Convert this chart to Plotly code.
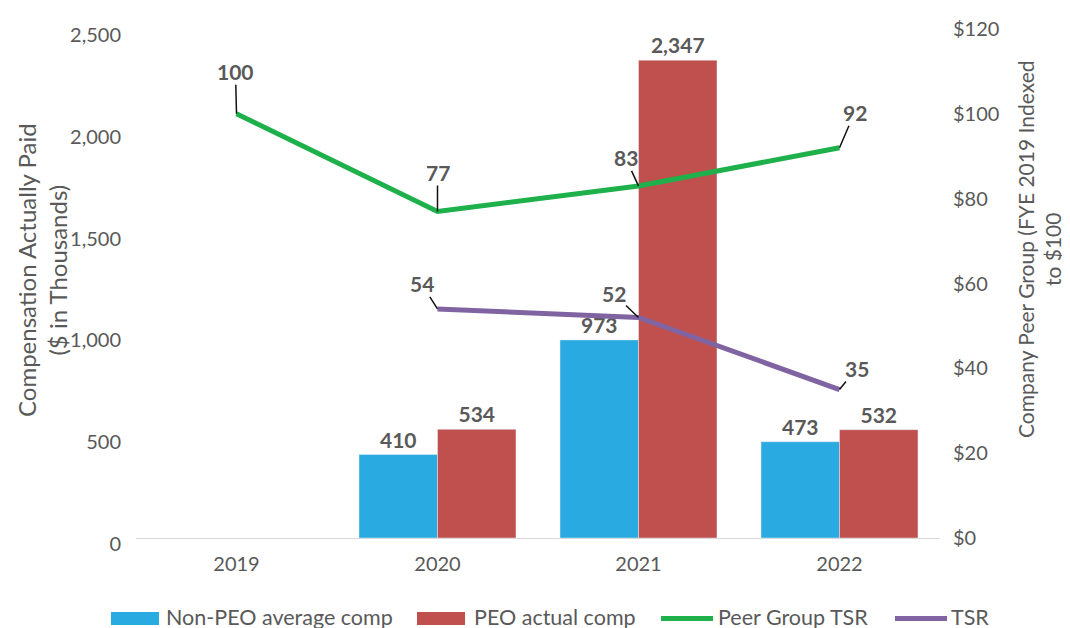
import plotly.graph_objects as go

years = ["2019", "2020", "2021", "2022"]
non_peo = [None, 410, 973, 473]
peo = [None, 534, 2347, 532]
peer_tsr = [100, 77, 83, 92]
tsr = [None, 54, 52, 35]

left_ticks = [0, 500, 1000, 1500, 2000, 2500]
right_ticks = [0, 20, 40, 60, 80, 100, 120]

GRAY = "#595959"
FONT = "Lato"
C_BLUE, C_RED, C_GREEN, C_PURPLE = "#29ABE2", "#C0504D", "#1DB04B", "#8064A2"

# The page adds an 8px body margin, so layout is expressed in page pixels minus this offset.
OFF = 8
# plot-area geometry in page pixels
PL, PR, PT, PB = 136, 940, 29, 538
L, R, T, B = PL - OFF, PR - OFF, PT - OFF, PB - OFF


def px(x):
    """page x pixel -> paper fraction"""
    return (x - PL) / (PR - PL)


def py(y):
    """page y pixel -> paper fraction"""
    return (PB - y) / (PB - PT)


fig = go.Figure()
fig.add_trace(go.Bar(x=years, y=non_peo, name="Non-PEO average comp", marker_color=C_BLUE,
                     text=[f"<b>{v:,}</b>" if v is not None else "" for v in non_peo],
                     textposition="outside", cliponaxis=False,
                     textfont=dict(family=FONT, size=21, color=GRAY)))
fig.add_trace(go.Bar(x=years, y=peo, name="PEO actual comp", marker_color=C_RED,
                     text=[f"<b>{v:,}</b>" if v is not None else "" for v in peo],
                     textposition="outside", cliponaxis=False,
                     textfont=dict(family=FONT, size=21, color=GRAY)))
fig.add_trace(go.Scatter(x=years, y=peer_tsr, name="Peer Group TSR", mode="lines",
                         line=dict(color=C_GREEN, width=5), yaxis="y2"))
fig.add_trace(go.Scatter(x=years, y=tsr, name="TSR", mode="lines",
                         line=dict(color=C_PURPLE, width=5), yaxis="y2"))

# leader-line labels for the line series (label offsets in pixels)
peer_off = [(-1, -42), (0, -39), (-13, -28), (15, -35)]
tsr_off = [None, (-16, -25), (-25, -24), (17, -21)]
for offs, vals in ((peer_off, peer_tsr), (tsr_off, tsr)):
    for i, v in enumerate(vals):
        if v is None:
            continue
        ax, ay = offs[i]
        fig.add_annotation(x=i, y=v, xref="x", yref="y2", text=f"<b>{v}</b>", showarrow=True,
                           arrowhead=0, arrowwidth=1.5, arrowcolor="#111111", ax=ax, ay=ay,
                           font=dict(family=FONT, size=21, color=GRAY), standoff=0, borderpad=0)

# axis titles (placed as rotated text)
fig.add_annotation(xref="paper", yref="paper", x=px(42), y=py(270), textangle=-90,
                   text="Compensation Actually Paid<br>($ in Thousands)", showarrow=False,
                   xanchor="center", yanchor="middle", align="center",
                   font=dict(family=FONT, size=24, color=GRAY))
fig.add_annotation(xref="paper", yref="paper", x=px(1039), y=py(250), textangle=-90,
                   text="Company Peer Group (FYE 2019 Indexed<br>to $100", showarrow=False,
                   xanchor="center", yanchor="middle", align="center",
                   font=dict(family=FONT, size=21, color=GRAY))

# legend drawn by hand so that its swatches match the reference
legend_items = [
    ("rect", C_BLUE, 111, 159, 164, "Non-PEO average comp"),
    ("rect", C_RED, 417, 465, 472, "PEO actual comp"),
    ("line", C_GREEN, 661, 713, 716, "Peer Group TSR"),
    ("line", C_PURPLE, 895, 947, 949, "TSR"),
]
for kind, col, x0, x1, xt, label in legend_items:
    if kind == "rect":
        fig.add_shape(type="rect", xref="paper", yref="paper", x0=px(x0), x1=px(x1),
                      y0=py(625), y1=py(612), fillcolor=col, line=dict(width=0))
    else:
        fig.add_shape(type="line", xref="paper", yref="paper", x0=px(x0), x1=px(x1),
                      y0=py(618.5), y1=py(618.5), line=dict(color=col, width=5))
    fig.add_annotation(xref="paper", yref="paper", x=px(xt), y=py(617), text=label,
                       showarrow=False, xanchor="left", yanchor="middle",
                       font=dict(family=FONT, size=21.5, color=GRAY))

fig.update_layout(
    width=1070, height=628,
    margin=dict(l=L, r=1070 - R, t=T, b=628 - B),
    paper_bgcolor="white", plot_bgcolor="white",
    barmode="group", bargap=0.219, bargroupgap=0,
    showlegend=False,
    font=dict(family=FONT, size=20, color=GRAY),
    xaxis=dict(type="category", categoryorder="array", categoryarray=years, range=[-0.5, 3.5],
               autorange=False, showline=True, linecolor="#D9D9D9", linewidth=1, ticks="",
               showgrid=False, automargin=False, ticklabelstandoff=8,
               tickfont=dict(size=20, color=GRAY)),
    yaxis=dict(range=[0, 2500], autorange=False, tickvals=left_ticks,
               ticktext=[f"{t:,}" for t in left_ticks], automargin=False,
               showgrid=False, zeroline=False, showline=False, ticks="", ticklabelstandoff=14,
               ticklabelshift=6, tickfont=dict(size=20, color=GRAY)),
    yaxis2=dict(range=[0, 120], autorange=False, tickvals=right_ticks,
                ticktext=[f"${t}" for t in right_ticks], automargin=False,
                overlaying="y", side="right", ticklabelstandoff=12,
                showgrid=False, zeroline=False, showline=False, ticks="",
                tickfont=dict(size=20, color=GRAY)),
)

fig.write_html("out.html")
